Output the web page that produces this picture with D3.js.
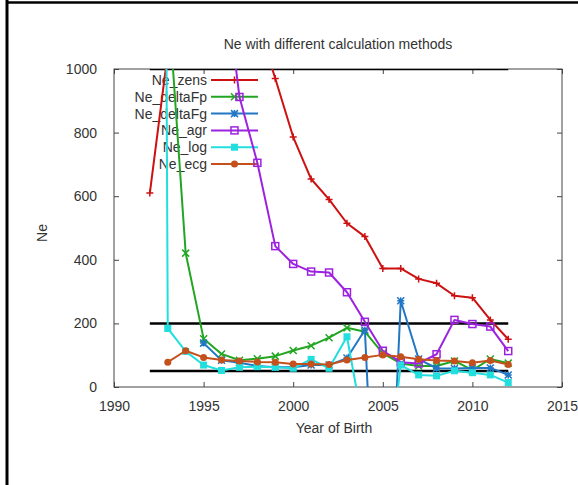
<!DOCTYPE html>
<html>
<head>
<meta charset="utf-8">
<script src="https://cdn.jsdelivr.net/npm/d3@7"></script>
<style>
  html, body { margin: 0; padding: 0; background: #fff; }
  svg { display: block; }
  text { font-family: "Liberation Sans", Arial, sans-serif; fill: #333; }
</style>
</head>
<body>
<script>
// Effective population size (Ne) by year of birth, six estimation methods
const years = d3.range(1992, 2013);
const neZens     = [610, 1050, 1400, 1600, 1500, 1300, 1150, 970, 786, 654, 590, 515, 473, 373, 373, 340, 326, 287, 281, 211, 150];
const neDeltaFp  = [null, 1240, 421, 152, 104, 84, 89, 97, 115, 130, 155, 186, 174, 106, 74, 66, 66, 82, 53, 88, 75];
const neDeltaFg  = [null, null, null, 138, 84, 76, 66, 62, 62, 69, 69, 91, 179, -1000, 271, 88, 59, 58, 60, 60, 38];
const neAgr      = [null, null, null, null, 1375, 912, 705, 443, 387, 363, 360, 298, 205, 114, 78, 74, 103, 211, 198, 190, 113];
const neLog      = [12000, 184, 112, 69, 52, 62, 64, 62, 59, 87, 59, 158, -150, -400, 69, 38, 35, 51, 45, 38, 14];
const neEcg      = [null, 78, 114, 93, 85, 82, 79, 78, 72, 72, 71, 85, 93, 101, 95, 87, 83, 82, 76, 83, 71];
const refLevels  = [1000, 200, 50];
const xTicks     = [1990, 1995, 2000, 2005, 2010, 2015];
const yTicks     = [0, 200, 400, 600, 800, 1000];

const series = [
  { name: "Ne_zens",    values: neZens,    color: "#cc1111", marker: "plus" },
  { name: "Ne_deltaFp", values: neDeltaFp, color: "#22a622", marker: "cross" },
  { name: "Ne_deltaFg", values: neDeltaFg, color: "#2277c4", marker: "star" },
  { name: "Ne_agr",     values: neAgr,     color: "#9d22e0", marker: "square" },
  { name: "Ne_log",     values: neLog,     color: "#22dede", marker: "fsquare" },
  { name: "Ne_ecg",     values: neEcg,     color: "#c4501c", marker: "circle" }
];

const W = 578, H = 485;
const plot = { left: 114, right: 562, top: 69, bottom: 387 };

const svg = d3.select("body").append("svg").attr("width", W).attr("height", H);

// page border
svg.append("line").attr("x1", 7).attr("x2", 7).attr("y1", 0).attr("y2", H)
  .attr("stroke", "#000").attr("stroke-width", 3);
svg.append("line").attr("x1", 7).attr("x2", W).attr("y1", 2.5).attr("y2", 2.5)
  .attr("stroke", "#000").attr("stroke-width", 2.5);

const x = d3.scaleLinear().domain([1990, 2015]).range([plot.left, plot.right]);
const y = d3.scaleLinear().domain([0, 1000]).range([plot.bottom, plot.top]);

svg.append("defs").append("clipPath").attr("id", "plotClip")
  .append("rect").attr("x", plot.left).attr("y", plot.top)
  .attr("width", plot.right - plot.left).attr("height", plot.bottom - plot.top);

// frame
svg.append("rect").attr("x", plot.left).attr("y", plot.top)
  .attr("width", plot.right - plot.left).attr("height", plot.bottom - plot.top)
  .attr("fill", "none").attr("stroke", "#444").attr("stroke-width", 1);

// axes with inward ticks, mirrored on top and right
const tk = 5;
const axB = svg.append("g").attr("transform", `translate(0,${plot.bottom})`)
  .call(d3.axisBottom(x).tickValues(xTicks).tickFormat(d3.format("d")).tickSizeInner(-tk).tickSizeOuter(0).tickPadding(14));
const axT = svg.append("g").attr("transform", `translate(0,${plot.top})`)
  .call(d3.axisTop(x).tickValues(xTicks).tickFormat("").tickSizeInner(-tk).tickSizeOuter(0));
const axL = svg.append("g").attr("transform", `translate(${plot.left},0)`)
  .call(d3.axisLeft(y).tickValues(yTicks).tickFormat(d3.format("d")).tickSizeInner(-tk).tickSizeOuter(0).tickPadding(17));
const axR = svg.append("g").attr("transform", `translate(${plot.right},0)`)
  .call(d3.axisRight(y).tickValues(yTicks).tickFormat("").tickSizeInner(-tk).tickSizeOuter(0));
[axB, axT, axL, axR].forEach(g => {
  g.select(".domain").remove();
  g.selectAll(".tick line").attr("stroke", "#444");
  g.selectAll("text").style("font-family", '"Liberation Sans", Arial, sans-serif')
    .style("font-size", "14px").attr("fill", "#333");
});

// titles
svg.append("text").attr("x", 338).attr("y", 49).attr("text-anchor", "middle")
  .style("font-size", "14px").text("Ne with different calculation methods");
svg.append("text").attr("x", 334).attr("y", 433).attr("text-anchor", "middle")
  .style("font-size", "14px").text("Year of Birth");
svg.append("text").attr("transform", "translate(47,233) rotate(-90)").attr("text-anchor", "middle")
  .style("font-size", "14px").text("Ne");

// marker shapes
function drawMarker(g, kind, cx, cy, color) {
  const r = 3.5;
  if (kind === "plus") {
    g.append("path").attr("d", `M${cx - r},${cy}H${cx + r}M${cx},${cy - r}V${cy + r}`)
      .attr("stroke", color).attr("stroke-width", 1.5).attr("fill", "none");
  } else if (kind === "cross") {
    g.append("path").attr("d", `M${cx - r},${cy - r}L${cx + r},${cy + r}M${cx - r},${cy + r}L${cx + r},${cy - r}`)
      .attr("stroke", color).attr("stroke-width", 1.5).attr("fill", "none");
  } else if (kind === "star") {
    g.append("path").attr("d", `M${cx - r},${cy}H${cx + r}M${cx},${cy - r}V${cy + r}M${cx - r},${cy - r}L${cx + r},${cy + r}M${cx - r},${cy + r}L${cx + r},${cy - r}`)
      .attr("stroke", color).attr("stroke-width", 1.5).attr("fill", "none");
  } else if (kind === "square") {
    g.append("rect").attr("x", cx - r).attr("y", cy - r).attr("width", 2 * r).attr("height", 2 * r)
      .attr("stroke", color).attr("stroke-width", 1.5).attr("fill", "none");
  } else if (kind === "fsquare") {
    g.append("rect").attr("x", cx - r).attr("y", cy - r).attr("width", 2 * r).attr("height", 2 * r)
      .attr("fill", color);
  } else if (kind === "circle") {
    g.append("circle").attr("cx", cx).attr("cy", cy).attr("r", r).attr("fill", color);
  }
}

// legend (no box, lines run over it)
const leg = svg.append("g");
series.forEach((s, i) => {
  const cy = 80 + i * 16.8;
  leg.append("text").attr("x", 207).attr("y", cy + 5).attr("text-anchor", "end")
    .style("font-size", "14px").text(s.name);
  leg.append("line").attr("x1", 211).attr("x2", 258).attr("y1", cy).attr("y2", cy)
    .attr("stroke", s.color).attr("stroke-width", 2);
  drawMarker(leg, s.marker, 234.5, cy, s.color);
});

const clipped = svg.append("g").attr("clip-path", "url(#plotClip)");

// reference levels
clipped.selectAll("line.ref").data(refLevels).join("line").attr("class", "ref")
  .attr("x1", x(1992)).attr("x2", x(2012))
  .attr("y1", d => y(d)).attr("y2", d => y(d))
  .attr("stroke", "#000").attr("stroke-width", 2.5);

// series lines and markers
const line = d3.line().defined(d => d.v != null).x(d => x(d.year)).y(d => y(d.v));
series.forEach(s => {
  const pts = years.map((yr, i) => ({ year: yr, v: s.values[i] }));
  clipped.append("path").datum(pts).attr("d", line)
    .attr("fill", "none").attr("stroke", s.color).attr("stroke-width", 2)
    .attr("stroke-linejoin", "round");
  const mg = clipped.append("g");
  pts.filter(p => p.v != null).forEach(p => drawMarker(mg, s.marker, x(p.year), y(p.v), s.color));
});
</script>
</body>
</html>
